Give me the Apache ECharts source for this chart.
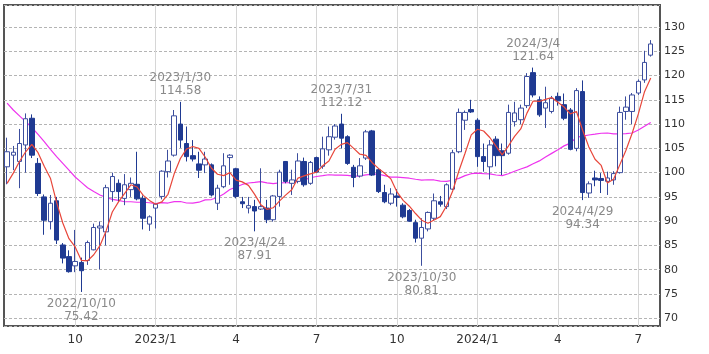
<!DOCTYPE html>
<html>
<head>
<meta charset="utf-8">
<script src="https://cdn.jsdelivr.net/npm/echarts@6/dist/echarts.min.js"></script>
<style>
  html,body{margin:0;padding:0;background:#fff;}
  #weekly{width:709px;height:354px;}
</style>
</head>
<body>
<div id="weekly"></div>
<script>
// weekly candles, first week 2022/7/18
var firstWeek = '2022/7/18';
var weekCount = 106; // 105 candles + one empty slot on the right

var opens  = [101.2,103.6,102.3,105.7,111.2,101.9,95.0,89.9,94.2,85.1,82.7,80.8,81.5,81.9,84.1,88.6,87.8,96.1,97.8,94.7,
              96.5,97.6,94.7,89.4,92.7,95.1,100.2,103.6,110.0,106.0,103.5,101.8,101.6,101.6,93.7,97.1,103.1,100.8,94.0,92.7,
              93.0,92.5,92.7,90.3,95.1,102.3,97.8,98.2,102.3,97.8,103.1,101.3,104.7,107.3,110.0,107.4,101.1,99.3,103.0,108.6,
              100.6,95.9,93.7,95.2,93.3,92.2,89.7,86.5,88.4,90.6,94.0,93.0,96.6,104.3,110.8,113.0,110.8,103.3,101.2,106.9,
              104.5,104.0,110.5,110.9,113.8,120.6,115.0,113.3,112.6,115.7,114.0,112.9,105.0,116.7,95.8,98.9,98.8,98.2,98.5,100.0,
              112.6,112.6,116.4,119.1,124.2];
var closes = [104.3,104.2,106.0,111.1,103.6,95.7,90.2,93.7,86.1,82.4,79.6,81.7,79.8,85.6,88.7,89.0,96.9,99.2,96.1,97.5,
              97.8,94.6,90.6,90.9,93.5,100.3,102.4,111.7,106.7,103.3,102.8,100.5,102.8,95.4,96.8,101.4,103.6,95.1,93.6,93.2,
              92.1,93.0,90.3,95.2,100.1,98.2,98.5,102.4,97.5,102.1,100.1,104.9,107.4,109.6,107.1,101.9,99.0,101.4,108.4,99.5,
              96.1,94.0,95.6,94.9,90.9,90.0,86.5,88.7,91.8,94.2,93.5,97.5,104.1,112.4,112.4,112.5,103.3,102.3,105.7,103.5,
              103.5,112.4,112.3,113.3,119.8,116.0,111.9,114.4,115.3,114.8,111.2,104.8,116.9,95.9,97.7,98.5,98.4,98.9,99.8,112.4,
              113.5,116.0,118.8,122.7,126.5];
var lows   = [97.6,100.5,96.8,100.0,103.0,95.2,87.2,88.3,85.3,81.3,79.4,79.5,75.42,81.0,84.0,80.1,85.0,94.0,94.0,93.3,
              95.0,94.3,88.3,88.0,88.5,94.5,99.0,103.3,105.1,102.3,102.3,98.9,99.9,95.1,92.3,96.8,97.5,94.7,92.7,91.6,
              87.91,92.3,89.6,89.9,93.0,97.8,95.4,97.8,97.1,97.5,99.9,100.8,103.5,106.8,105.0,101.6,97.0,99.0,102.6,99.3,
              95.8,93.7,93.3,93.0,90.6,89.9,85.6,80.81,87.9,90.2,93.0,92.5,96.4,104.0,108.8,112.3,101.2,100.2,98.6,101.3,
              99.5,103.7,109.5,110.0,113.3,115.5,111.5,109.2,112.2,113.8,110.8,104.6,104.4,94.34,94.8,97.2,95.8,95.4,97.5,99.8,
              110.9,110.0,116.0,118.5,123.9];
var highs  = [107.2,105.5,109.0,112.2,112.0,103.0,95.5,95.4,95.0,85.5,84.0,88.2,82.5,86.0,89.5,89.9,97.5,100.0,98.6,99.7,
              99.0,104.3,95.3,91.2,93.6,100.5,104.7,112.9,114.58,109.5,106.7,104.3,104.3,101.9,97.5,104.0,103.8,101.0,95.0,95.0,
              94.4,100.9,94.4,95.4,100.6,102.4,100.6,104.0,103.1,102.4,103.3,107.4,109.5,110.0,112.12,107.7,101.6,103.0,108.8,108.8,
              100.9,97.5,96.8,96.6,93.7,92.5,90.3,90.6,92.0,95.7,95.2,97.8,104.7,113.2,112.8,115.0,111.2,106.0,106.7,107.5,
              106.0,114.0,114.6,114.0,120.5,121.64,115.7,117.7,115.8,116.5,116.3,113.3,117.4,119.0,98.2,100.4,99.9,100.2,100.3,113.6,
              115.7,116.4,119.2,125.1,127.3];

// moving average values at the left edge (earlier weeks are off the chart)
var ma5Head  = [97.8,99.9,102.3,104.3];
var ma26Head = [114.3,112.9,111.7,110.5,109.3,107.9,106.4,104.8,103.3,101.9,100.5,99.1,98.0,96.9,96.1,95.4,94.9,94.5,94.3,94.0,
                94.0,93.9,93.9,93.8,93.6];

// high / low notes
var noteDates  = ['2022/10/10','2023/1/30','2023/4/24','2023/7/31','2023/10/30','2024/3/4','2024/4/29'];
var noteValues = [75.42,114.58,87.91,112.12,80.81,121.64,94.34];
var noteSides  = ['bottom','top','bottom','top','bottom','top','bottom'];

var dates = [];
var d0 = new Date(firstWeek);
for (var i = 0; i < weekCount; i++) {
    var d = new Date(d0.getFullYear(), d0.getMonth(), d0.getDate() + i * 7);
    dates.push(d.getFullYear() + '/' + (d.getMonth() + 1) + '/' + d.getDate());
}

function isQuarterStart(v) {
    var p = v.split('/');
    var m = +p[1], day = +p[2];
    return day <= 7 && (m === 1 || m === 4 || m === 7 || m === 10);
}

var candles = [];
for (var i = 0; i < opens.length; i++) {
    candles.push([opens[i], closes[i], lows[i], highs[i]]);
}

function calcMA(n, head) {
    var out = [];
    for (var i = 0; i < closes.length; i++) {
        if (i < head.length) { out.push(head[i]); continue; }
        var s = 0;
        for (var j = 0; j < n; j++) s += closes[i - j];
        out.push(+(s / n).toFixed(2));
    }
    return out;
}

var notes = [];
for (var i = 0; i < noteDates.length; i++) {
    notes.push({
        coord: [noteDates[i], noteValues[i]],
        value: noteValues[i],
        label: {position: noteSides[i], distance: noteSides[i] === 'top' ? 4 : 5}
    });
}

var chart = echarts.init(document.getElementById('weekly'));
var option = {
    animation: false,
    grid: {
        left: 4, right: 49, top: 5, bottom: 28,
        show: true,
        borderColor: '#555',
        borderWidth: 2
    },
    xAxis: {
        type: 'category',
        data: dates,
        boundaryGap: true,
        axisLine: {show: false},
        axisTick: {show: false},
        axisLabel: {
            interval: function (idx, v) { return isQuarterStart(v); },
            formatter: function (v) {
                var p = v.split('/');
                return p[1] === '1' ? p[0] + '/1' : p[1];
            },
            color: '#333',
            fontFamily: 'DejaVu Sans',
            fontSize: 12,
            margin: 8
        },
        splitLine: {
            show: true,
            alignWithLabel: true,
            interval: function (idx, v) { return isQuarterStart(v); },
            lineStyle: {color: '#d6d6d6', width: 1}
        }
    },
    yAxis: {
        type: 'value',
        position: 'right',
        min: 68.41,
        max: 134.53,
        splitNumber: 13,
        axisLine: {show: false},
        axisTick: {show: false},
        axisLabel: {
            formatter: function (v) { return Math.abs(v % 5) < 1e-6 ? v : ''; },
            color: '#333',
            fontFamily: 'DejaVu Sans',
            fontSize: 11,
            margin: 4
        },
        splitLine: {lineStyle: {color: '#b4b4b4', type: [3, 2], width: 1}}
    },
    series: [
        {
            name: 'MA26',
            type: 'line',
            data: calcMA(26, ma26Head),
            symbol: 'none',
            lineStyle: {color: '#ee33ee', width: 1.2},
            z: 1
        },
        {
            type: 'candlestick',
            data: candles,
            barWidth: 5,
            itemStyle: {
                color: '#ffffff',
                color0: '#1f3a92',
                borderColor: '#3c4e9e',
                borderColor0: '#1f3a92',
                borderWidth: 1
            },
            markPoint: {
                symbol: 'circle',
                symbolSize: 1,
                itemStyle: {color: 'rgba(0,0,0,0)'},
                label: {
                    show: true,
                    formatter: function (p) { return p.data.coord[0] + '\n' + p.data.value; },
                    color: '#8a8a8a',
                    fontFamily: 'DejaVu Sans',
                    fontSize: 12,
                    lineHeight: 13
                },
                data: notes
            },
            z: 2
        },
        {
            name: 'MA5',
            type: 'line',
            data: calcMA(5, ma5Head),
            symbol: 'none',
            lineStyle: {color: '#e8463a', width: 1.2},
            z: 3
        }
    ]
};
chart.setOption(option);
</script>
</body>
</html>
